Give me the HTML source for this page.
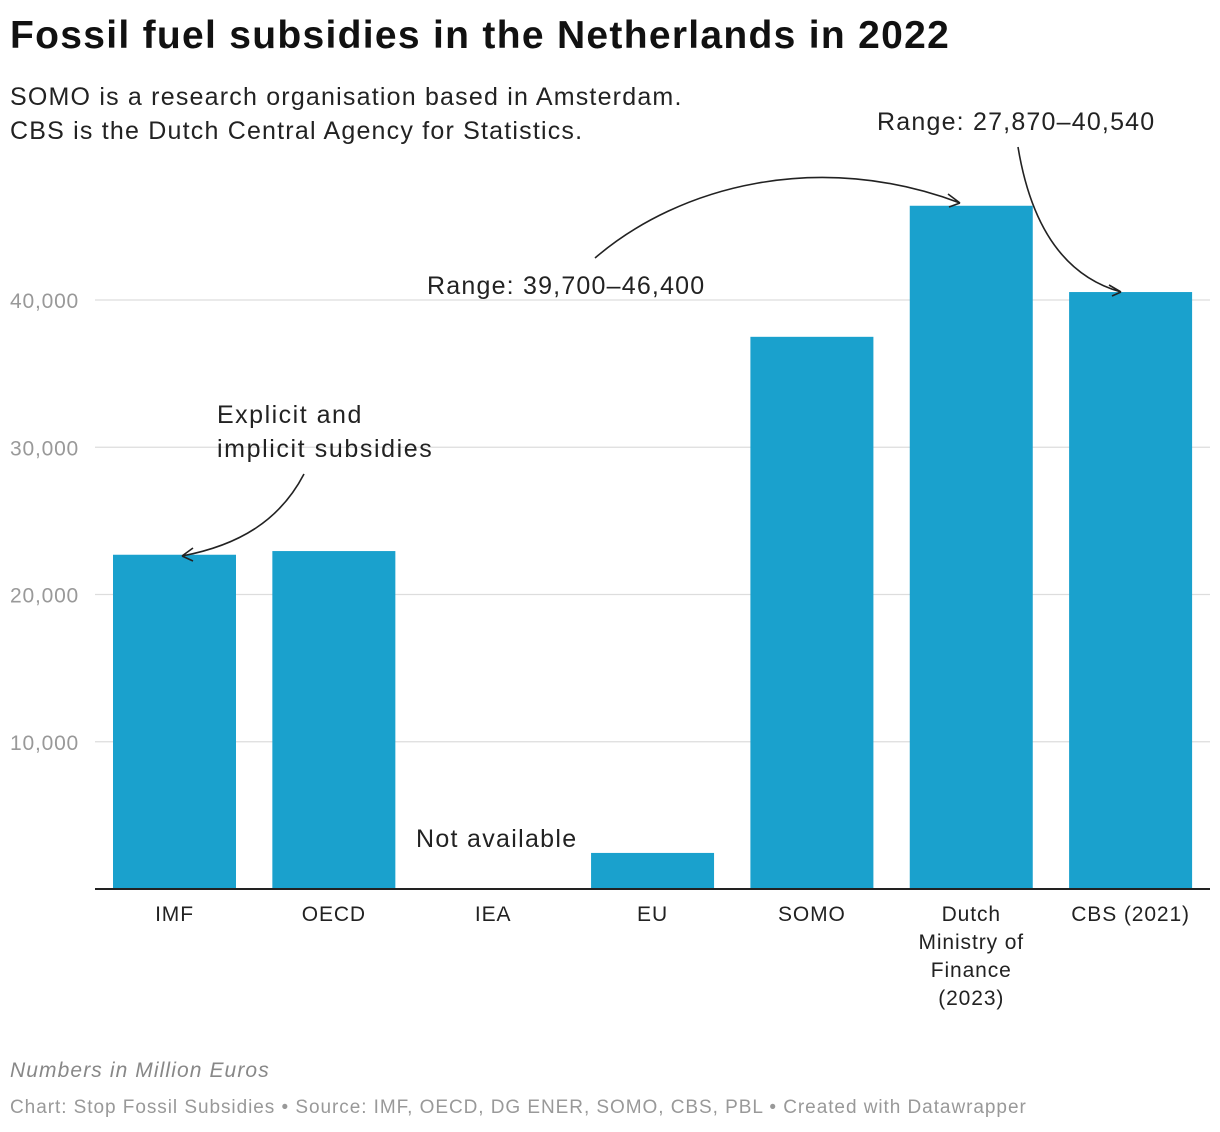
<!DOCTYPE html>
<html><head><meta charset="utf-8"><style>
body{margin:0;background:#fff;font-family:"Liberation Sans",sans-serif;}
#wrap{position:relative;width:1220px;height:1132px;overflow:hidden}
h1{position:absolute;left:10px;top:14px;margin:0;font-size:39px;font-weight:bold;color:#111;letter-spacing:1.3px}
.sub{position:absolute;left:10px;top:80px;font-size:25px;color:#222;line-height:34px;letter-spacing:1.2px}
.note{position:absolute;left:10px;top:1059px;font-size:21px;font-style:italic;color:#888;letter-spacing:1.1px}
.src{position:absolute;left:10px;top:1097px;font-size:19px;color:#999;letter-spacing:0.95px}
svg{position:absolute;left:0;top:0}
</style></head><body>
<div id="wrap">
<h1>Fossil fuel subsidies in the Netherlands in 2022</h1>
<div class="sub">SOMO is a research organisation based in Amsterdam.<br>CBS is the Dutch Central Agency for Statistics.</div>
<div class="note">Numbers in Million Euros</div>
<div class="src">Chart: Stop Fossil Subsidies • Source: IMF, OECD, DG ENER, SOMO, CBS, PBL • Created with Datawrapper</div>
<svg id="svg" width="1220" height="1132"></svg>
</div>
<script>
const categories=[["IMF"],["OECD"],["IEA"],["EU"],["SOMO"],["Dutch","Ministry of","Finance","(2023)"],["CBS (2021)"]];
const values=[22700,22950,null,2450,37500,46400,40540];
const ticks=[10000,20000,30000,40000];
const tickLabels=["10,000","20,000","30,000","40,000"];
const NS="http://www.w3.org/2000/svg";
const svg=document.getElementById('svg');
const y0=889, pxPer=147.25/10000;
const y=v=>y0-v*pxPer;
const x0=113, step=159.35, bw=123;
const x=i=>x0+i*step;
function mk(t,a,txt){const e=document.createElementNS(NS,t);for(const k in a)e.setAttribute(k,a[k]);if(txt!=null)e.textContent=txt;svg.appendChild(e);return e;}
ticks.forEach((t,i)=>{
 const g=mk('line',{x1:95,x2:1210,y1:y(t),y2:y(t),stroke:'#ddd','stroke-width':1.3});
 
 
 const l=mk('text',{x:10,y:y(t)+8,'font-size':21,fill:'#999','font-family':'Liberation Sans','letter-spacing':0.8},tickLabels[i]);
 
 
});
values.forEach((v,i)=>{
 if(v!=null){
  const r=mk('rect',{x:x(i),y:y(v),width:bw,height:y0-y(v),fill:'#1aa1cd'});
  
  
 }
 categories[i].forEach((s,j)=>{
  const t=mk('text',{x:x(i)+bw/2,y:921+j*28,'text-anchor':'middle','font-size':21,fill:'#222','font-family':'Liberation Sans','letter-spacing':0.9},s);
  
  
 });
});
const ax=mk('line',{x1:95,x2:1210,y1:y0,y2:y0,stroke:'#222','stroke-width':2});


function ann(txt,xx,yy,name,ls){const t=mk('text',{x:xx,y:yy,'font-size':25,fill:'#222','font-family':'Liberation Sans','letter-spacing':ls},txt);}
ann('Explicit and',217,423,'annotation-imf',1.5);
ann('implicit subsidies',217,457,'annotation-imf-2',1.6);
ann('Not available',416,847,'annotation-iea',1.3);
ann('Range: 39,700–46,400',427,294,'annotation-range-ministry',1.2);
ann('Range: 27,870–40,540',877,130,'annotation-range-cbs',1.2);
function arrow(d,name){const p=mk('path',{d:d,fill:'none',stroke:'#222','stroke-width':1.6});}
arrow('M304,474 C280,520 240,545 182,556 M182,556 L193,548 M182,556 L193,561','arrow-imf');
arrow('M595,258 C680,185 820,150 960,203 M960,203 L948,194 M960,203 L949,207','arrow-ministry');
arrow('M1018,147 C1030,220 1060,275 1121,292 M1121,292 L1109,285 M1121,292 L1112,296','arrow-cbs');
</script>
</body></html>
